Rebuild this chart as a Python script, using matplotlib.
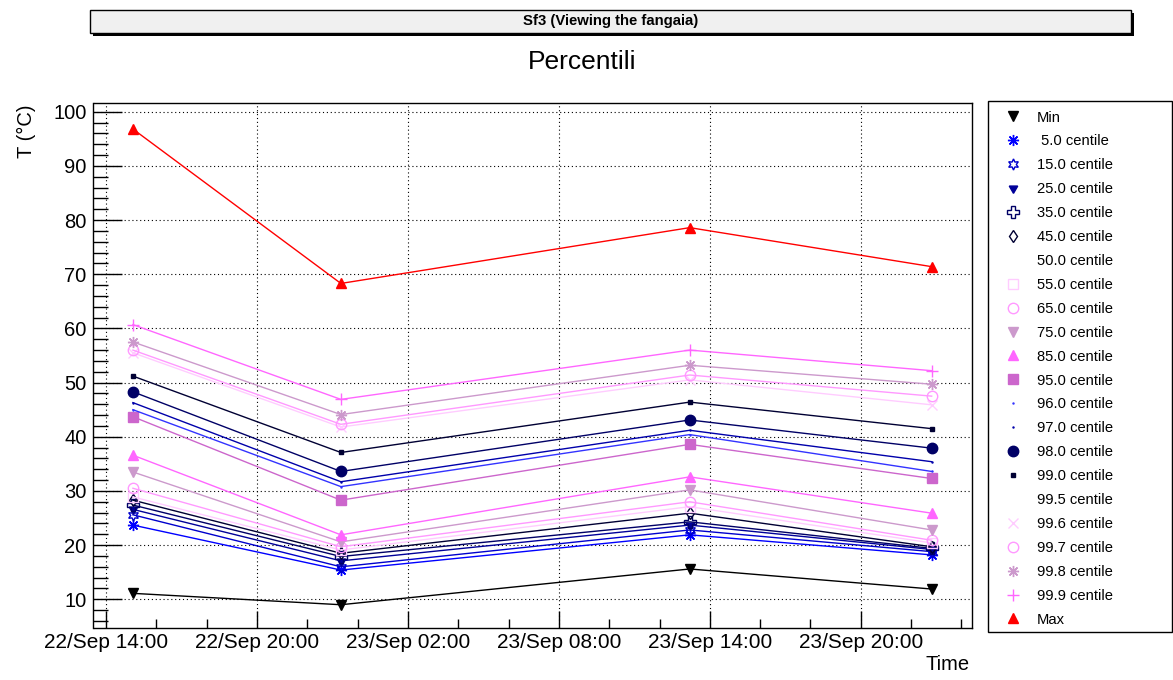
import numpy as np
import matplotlib
matplotlib.use('Agg')
import matplotlib.pyplot as plt
import matplotlib.dates as mdates
from matplotlib.lines import Line2D
from matplotlib.patches import Rectangle

plt.rcParams['font.family'] = ['Liberation Sans', 'DejaVu Sans']

W, H = 1173, 680

# sample times
times = np.array(['2017-09-22T15:04', '2017-09-22T23:20',
                  '2017-09-23T13:12', '2017-09-23T22:49'], dtype='datetime64[m]')

p_min = [11.1, 9.0, 15.6, 11.9]
p05 = [23.7, 15.4, 21.9, 18.2]
p15 = [25.6, 16.0, 22.8, 18.8]
p25 = [26.6, 17.1, 23.7, 19.2]
p35 = [27.4, 17.9, 24.3, 19.4]
p45 = [28.3, 18.5, 25.9, 19.7]
p50 = [28.6, 18.8, 26.5, 20.0]
p55 = [28.9, 19.1, 27.1, 20.4]
p65 = [30.5, 19.7, 28.0, 20.9]
p75 = [33.5, 20.6, 30.2, 22.8]
p85 = [36.6, 21.9, 32.6, 25.9]
p95 = [43.7, 28.3, 38.6, 32.3]
p96 = [45.0, 30.8, 40.4, 33.6]
p97 = [46.3, 31.7, 41.2, 35.4]
p98 = [48.3, 33.6, 43.1, 37.9]
p99 = [51.2, 37.1, 46.4, 41.5]
p995 = [54.5, 40.9, 49.5, 45.0]
p996 = [55.5, 41.8, 50.5, 45.9]
p997 = [56.0, 42.3, 51.4, 47.5]
p998 = [57.5, 44.1, 53.2, 49.7]
p999 = [60.7, 46.9, 56.0, 52.2]
p_max = [96.8, 68.3, 78.6, 71.4]

labels = ['Min', ' 5.0 centile', '15.0 centile', '25.0 centile', '35.0 centile',
          '45.0 centile', '50.0 centile', '55.0 centile', '65.0 centile',
          '75.0 centile', '85.0 centile', '95.0 centile', '96.0 centile',
          '97.0 centile', '98.0 centile', '99.0 centile', '99.5 centile',
          '99.6 centile', '99.7 centile', '99.8 centile', '99.9 centile', 'Max']
series = [p_min, p05, p15, p25, p35, p45, p50, p55, p65, p75, p85, p95,
          p96, p97, p98, p99, p995, p996, p997, p998, p999, p_max]

# (color, marker, size, filled)
styles = [
    ('#000000', 'v', 7.5, True),
    ('#0000ff', (8, 2, 0), 8, True),
    ('#0000cc', (6, 1, 0), 8, False),
    ('#000099', (3, 1, 180), 7, True),
    ('#000066', 'P', 8, False),
    ('#000033', 'd', 6, False),
    ('#ffffff', None, 0, True),
    ('#ffccff', 's', 7, False),
    ('#ff99ff', 'o', 7.5, False),
    ('#cc99cc', 'v', 7.5, True),
    ('#ff66ff', '^', 7.5, True),
    ('#cc66cc', 's', 7, True),
    ('#3333ff', '.', 1.5, True),
    ('#0000aa', '.', 1.5, True),
    ('#000066', 'o', 7.5, True),
    ('#000033', 's', 2.5, True),
    ('#ffffff', None, 0, True),
    ('#ffccff', 'x', 7, True),
    ('#ff99ff', 'o', 7.5, False),
    ('#cc99cc', (8, 2, 0), 8, True),
    ('#ff66ff', '+', 9, True),
    ('#ff0000', '^', 7.5, True),
]

fig = plt.figure(figsize=(W / 100, H / 100), dpi=100)
ax = fig.add_axes([93.5 / W, 1 - 628.3 / H, 878 / W, 525 / H])

handles = []
for vals, (col, mk, ms, filled) in zip(series, styles):
    z = 1 if col == '#ffffff' else 3
    ax.plot(times, vals, color=col, lw=1, marker=mk, markersize=ms,
            markerfacecolor=col if filled else 'none', markeredgecolor=col,
            markeredgewidth=1, zorder=z)
    handles.append(Line2D([], [], linestyle='none', marker=mk, markersize=ms, color=col,
                          markerfacecolor=col if filled else 'none',
                          markeredgecolor=col, markeredgewidth=1))

ax.set_ylim(4.65, 101.55)
ax.set_xlim(np.datetime64('2017-09-22T13:30'), np.datetime64('2017-09-24T00:24'))

ax.xaxis.set_major_locator(mdates.HourLocator(byhour=[2, 8, 14, 20]))
ax.xaxis.set_minor_locator(mdates.HourLocator(byhour=range(0, 24, 2)))
ax.xaxis.set_major_formatter(mdates.DateFormatter('%d/%b %H:%M'))
ax.set_yticks(np.arange(10, 101, 10))
ax.set_yticks(np.arange(6, 101, 2), minor=True)

ax.tick_params(axis='x', which='major', direction='in', length=12, width=1,
               labelsize=15, pad=3.5)
ax.tick_params(axis='x', which='minor', direction='in', length=6.4, width=1)
ax.tick_params(axis='y', which='major', direction='in', length=21, width=1,
               labelsize=14.5, pad=5)
ax.tick_params(axis='y', which='minor', direction='in', length=10.5, width=1)
ax.grid(True, which='major', color='black', linestyle=(0, (1, 2.5)), lw=0.8)
for s in ax.spines.values():
    s.set_linewidth(1)

# title pave with shadow
fig.add_artist(Rectangle((93 / W, 1 - 36 / H), 1041 / W, 23 / H, transform=fig.transFigure,
                         facecolor='#000000', edgecolor='none'))
fig.add_artist(Rectangle((90 / W, 1 - 33 / H), 1041 / W, 23 / H, transform=fig.transFigure,
                         facecolor='#f0f0f0', edgecolor='black', lw=1))
fig.text(610.5 / W, 1 - 21.5 / H, 'Sf3 (Viewing the fangaia)', ha='center', va='center',
         fontsize=10.7, fontweight='bold')
fig.text(582 / W, 1 - 62 / H, 'Percentili', ha='center', va='center', fontsize=19)

fig.text(26 / W, 1 - 104 / H, 'T (°C)', rotation=90, ha='center', va='top', fontsize=14.5)
fig.text(970 / W, 1 - 665 / H, 'Time', ha='right', va='center', fontsize=14.5)

# legend box
fig.add_artist(Rectangle((988 / W, 1 - 632 / H), 184 / W, 531 / H, transform=fig.transFigure,
                         facecolor='white', edgecolor='black', lw=1))
fig.legend(handles, labels, loc='upper left', bbox_to_anchor=(1001 / W, 1 - 110.5 / H),
           bbox_transform=fig.transFigure, frameon=False, borderpad=0, borderaxespad=0,
           handlelength=1.6, handletextpad=0.82, labelspacing=0.67, fontsize=10.65)

fig.savefig('out.png', dpi=100)
